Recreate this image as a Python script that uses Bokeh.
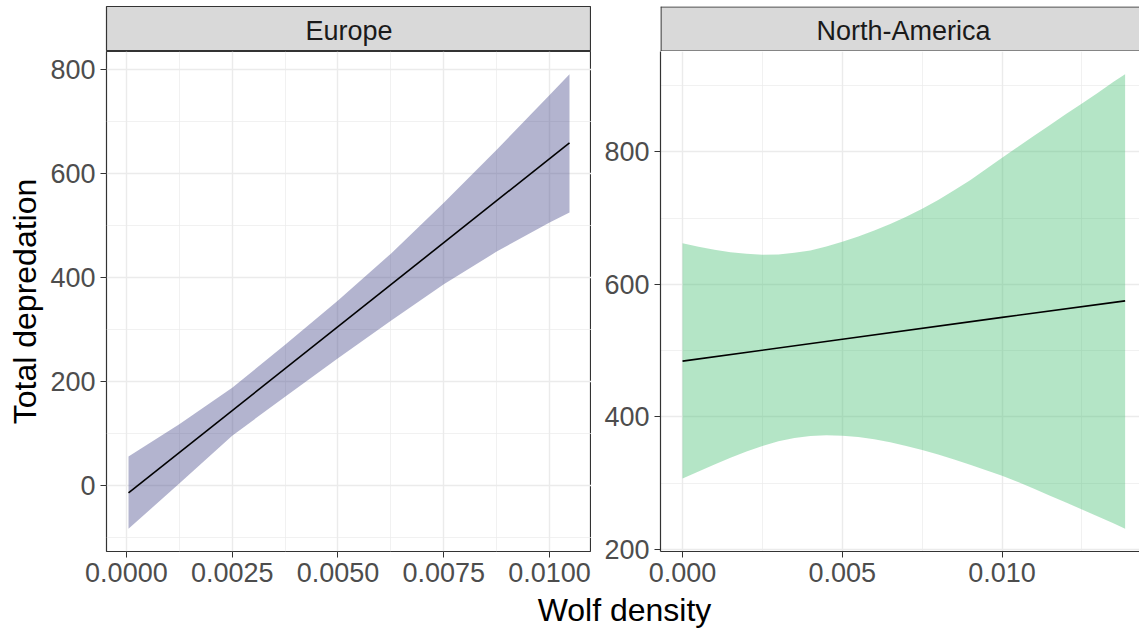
from bokeh.plotting import figure
from bokeh.layouts import column, row
from bokeh.models import Range1d, FixedTicker, Label, NumeralTickFormatter
from bokeh.embed import file_html
from bokeh.resources import INLINE

# ---------------- data ----------------
panels = ["Europe", "North-America"]

eu_x = [0.00005, 0.00125, 0.0025, 0.00375, 0.005, 0.00625, 0.0075, 0.00875, 0.010, 0.01047]
eu_upper = [55, 117, 187, 270, 355, 445, 543, 645, 750, 790]
eu_lower = [-84, 3, 95, 170, 244, 316, 386, 449, 505, 524]
eu_line_x = [0.00005, 0.01047]
eu_line_y = [-15, 658]

na_x = [0.0, 0.0005, 0.001, 0.0015, 0.002, 0.0025, 0.003, 0.0035, 0.004, 0.0045,
        0.005, 0.0055, 0.006, 0.0065, 0.007, 0.0075, 0.008, 0.0085, 0.009, 0.0095,
        0.010, 0.0105, 0.011, 0.0115, 0.012, 0.0125, 0.013, 0.0135, 0.01385]
na_upper = [662, 656.5, 652, 648.5, 646, 644.5, 645, 647.5, 651, 657,
            664, 672, 681, 691, 702, 714, 727, 742, 757, 774,
            791, 807.5, 824, 840.5, 857, 873, 889, 906, 917]
na_lower = [307, 317.5, 328, 338, 347.5, 356, 363, 368, 371, 372,
            371.5, 369.5, 366, 361.5, 356, 350, 343, 335.5, 327.5, 319.5,
            311, 301.5, 291.5, 281, 270.5, 260, 249.5, 239, 231]
na_line_x = [0.0, 0.005, 0.010, 0.01385]
na_line_y = [484, 517, 550, 575]

eu_xticks = [0.0, 0.0025, 0.005, 0.0075, 0.010]
eu_xminor = [0.00125, 0.00375, 0.00625, 0.00875]
eu_yticks = [0, 200, 400, 600, 800]
eu_yminor = [-100, 100, 300, 500, 700]
na_xticks = [0.0, 0.005, 0.010]
na_xminor = [0.0025, 0.0075, 0.0125]
na_yticks = [200, 400, 600, 800]
na_yminor = [300, 500, 700, 900]

x_title = "Wolf density"
y_title = "Total depredation"

# ---------------- styling ----------------
FONT = "Liberation Sans"
GRID = "#EBEBEB"
DARK = "#333333"
TICKTXT = "#4D4D4D"
EU_FILL = "#414487"
NA_FILL = "#44BF70"

FRAME_H = 500
STRIP_H = 45
TOP = 6
BOTTOM = 41
L_LEFT, L_W = 106, 485
R_LEFT, R_W = 69, 479


def style_axes(p, xticks, xminor, yticks, yminor, xfmt):
    p.xaxis.ticker = FixedTicker(ticks=xticks, minor_ticks=xminor)
    p.yaxis.ticker = FixedTicker(ticks=yticks, minor_ticks=yminor)
    p.xaxis.formatter = NumeralTickFormatter(format=xfmt)
    p.yaxis.formatter = NumeralTickFormatter(format="0")
    for ax in (p.xaxis, p.yaxis):
        ax.major_tick_line_color = DARK
        ax.major_tick_line_width = 1
        ax.major_tick_out = 6
        ax.major_tick_in = 0
        ax.minor_tick_line_color = None
        ax.major_label_text_font = FONT
        ax.major_label_text_font_size = "27px"
        ax.major_label_text_color = TICKTXT
        ax.major_label_standoff = 5
    for g in (p.xgrid, p.ygrid):
        g.grid_line_color = GRID
        g.grid_line_width = 1.4
        g.minor_grid_line_color = GRID
        g.minor_grid_line_width = 0.7
    p.background_fill_color = "white"
    p.border_fill_color = "white"


# ---- left (Europe) ----
pL = figure(frame_width=L_W, frame_height=FRAME_H,
            x_range=Range1d(-0.00047, 0.01099), y_range=Range1d(-127.7, 833.7),
            min_border_left=L_LEFT, min_border_right=0, min_border_top=0,
            min_border_bottom=BOTTOM, output_backend="svg", toolbar_location=None)
style_axes(pL, eu_xticks, eu_xminor, eu_yticks, eu_yminor, "0.0000")
pL.outline_line_color = DARK
pL.outline_line_width = 1.2
pL.xaxis.axis_line_color = None
pL.yaxis.axis_line_color = None
pL.yaxis.axis_label = y_title
pL.yaxis.axis_label_text_font = FONT
pL.yaxis.axis_label_text_font_size = "32px"
pL.yaxis.axis_label_text_font_style = "normal"
pL.yaxis.axis_label_text_color = "black"
pL.yaxis.axis_label_standoff = 4
pL.varea(x=eu_x, y1=eu_lower, y2=eu_upper, fill_color=EU_FILL, fill_alpha=0.4)
pL.line(x=eu_line_x, y=eu_line_y, line_color="black", line_width=1.6)

# ---- right (North-America) ----
pR = figure(frame_width=R_W, frame_height=FRAME_H,
            x_range=Range1d(-0.00069, 0.0143), y_range=Range1d(196.7, 951.3),
            min_border_left=R_LEFT, min_border_right=0, min_border_top=0,
            min_border_bottom=BOTTOM, output_backend="svg", toolbar_location=None)
style_axes(pR, na_xticks, na_xminor, na_yticks, na_yminor, "0.000")
pR.outline_line_color = None
pR.xaxis.axis_line_color = DARK
pR.yaxis.axis_line_color = DARK
pR.xaxis.axis_line_width = 1.2
pR.yaxis.axis_line_width = 1.2
pR.varea(x=na_x, y1=na_lower, y2=na_upper, fill_color=NA_FILL, fill_alpha=0.4)
pR.line(x=na_line_x, y=na_line_y, line_color="black", line_width=1.6)


# ---- strips ----
def make_strip(left, w, label, cx, full_box):
    s = figure(frame_width=w, frame_height=STRIP_H,
               x_range=Range1d(0, w), y_range=Range1d(0, STRIP_H),
               min_border_left=left, min_border_right=0, min_border_top=TOP,
               min_border_bottom=0, x_axis_type=None, y_axis_type=None,
               output_backend="svg", toolbar_location=None)
    s.grid.visible = False
    s.background_fill_color = "#D9D9D9"
    s.border_fill_color = "white"
    if full_box:
        s.outline_line_color = DARK
        s.outline_line_width = 1.2
    else:
        s.outline_line_color = None
        s.multi_line(xs=[[0.5, 0.5], [0, w], [0, w]],
                     ys=[[0, STRIP_H], [STRIP_H - 0.5, STRIP_H - 0.5], [0.5, 0.5]],
                     line_color=DARK, line_width=1.2)
    s.add_layout(Label(x=cx, y=21.0, text=label, text_align="center",
                       text_baseline="middle", text_font=FONT,
                       text_font_size="27px", text_color="#1A1A1A"))
    return s


sL = make_strip(L_LEFT, L_W, panels[0], L_W / 2, True)
sR = make_strip(R_LEFT, R_W, panels[1], 243, False)

# ---- shared x title ----
t = figure(width=1139, height=36, x_range=Range1d(0, 1139), y_range=Range1d(0, 36),
           min_border=0, x_axis_type=None, y_axis_type=None,
           output_backend="svg", toolbar_location=None)
t.grid.visible = False
t.outline_line_color = None
t.background_fill_color = "white"
t.border_fill_color = "white"
t.add_layout(Label(x=624, y=18.5, text=x_title, text_align="center",
                   text_baseline="middle", text_font=FONT,
                   text_font_size="32px", text_color="black"))

layout = column(row(sL, sR), row(pL, pR), t)
open("out.html", "w").write(file_html(layout, INLINE))
